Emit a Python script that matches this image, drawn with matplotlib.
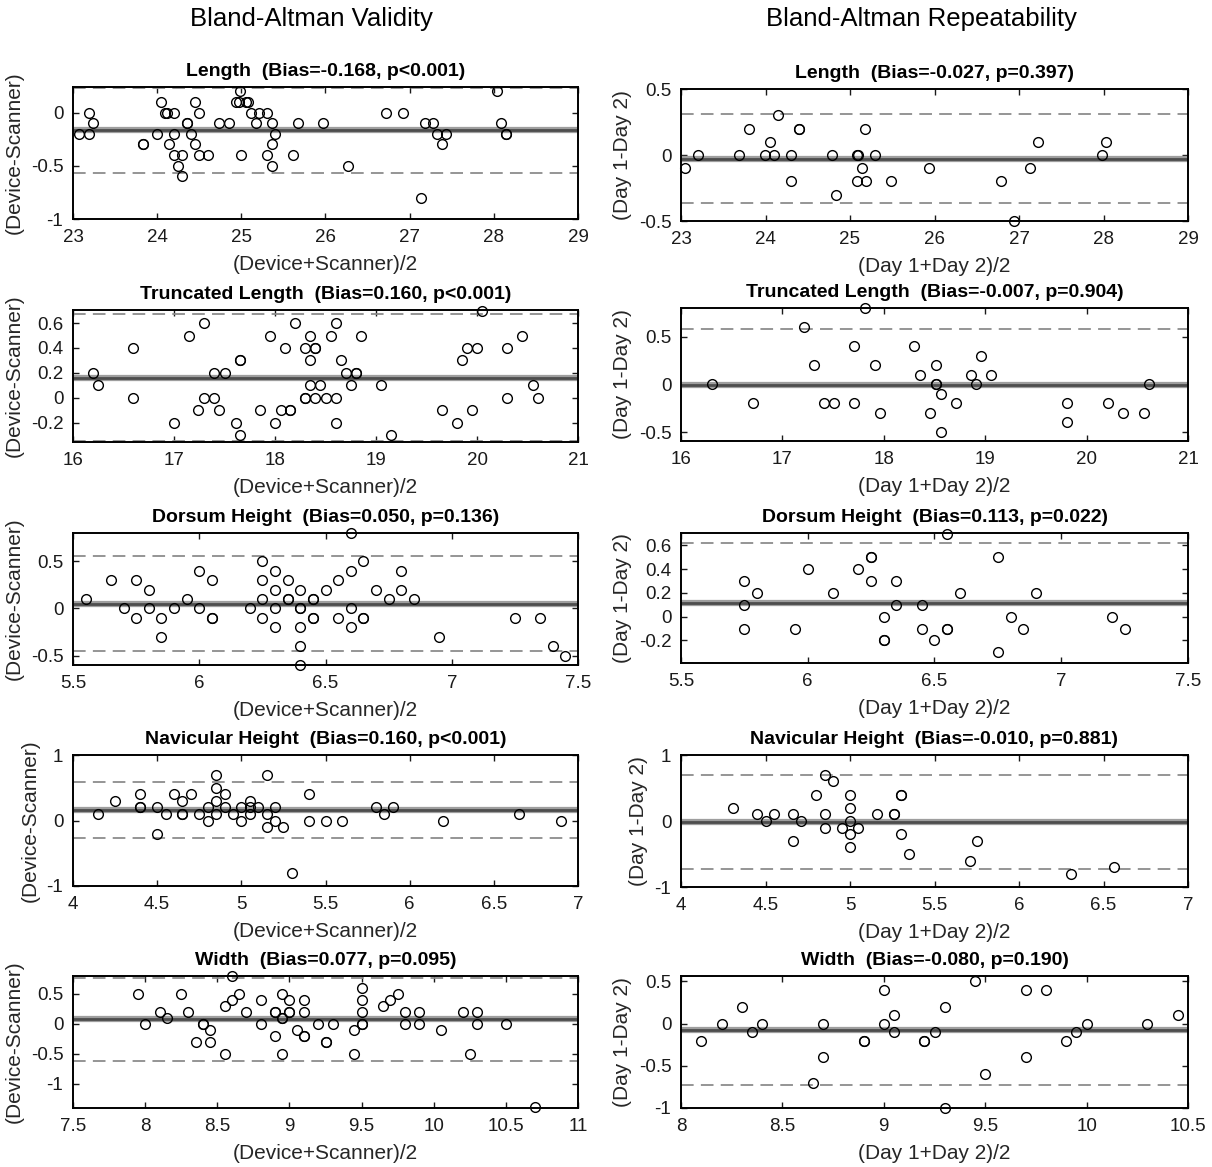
import numpy as np
import matplotlib
matplotlib.use("Agg")
import matplotlib.pyplot as plt
from matplotlib.ticker import FuncFormatter

plt.rcParams["font.family"] = ["Liberation Sans", "DejaVu Sans"]

W, H = 1212, 1167

# ---- data: (mean, difference) per panel ----
val_len_x = [23.07, 23.19, 23.19, 23.24, 23.83, 23.83, 24.0, 24.05, 24.09, 24.12,
             24.14, 24.2, 24.2, 24.2, 24.25, 24.29, 24.3, 24.35, 24.36, 24.4,
             24.45, 24.45, 24.5, 24.5, 24.6, 24.74, 24.85, 24.94, 24.97, 24.99,
             25.0, 25.06, 25.08, 25.11, 25.17, 25.21, 25.31, 25.31, 25.36, 25.36,
             25.36, 25.4, 25.61, 25.67, 25.97, 26.27, 26.72, 26.92, 27.13, 27.18,
             27.28, 27.33, 27.38, 27.43, 28.04, 28.09, 28.14, 28.14]
val_len_y = [-0.2, 0, -0.2, -0.1, -0.3, -0.3, -0.2, 0.1, 0, 0,
             -0.3, 0, -0.2, -0.4, -0.5, -0.6, -0.4, -0.1, -0.1, -0.2,
             0.1, -0.3, 0, -0.4, -0.4, -0.1, -0.1, 0.1, 0.1, 0.2,
             -0.4, 0.1, 0.1, 0, -0.1, 0, 0, -0.4, -0.1, -0.3,
             -0.5, -0.2, -0.4, -0.1, -0.1, -0.5, 0, 0, -0.8, -0.1,
             -0.1, -0.2, -0.3, -0.2, 0.2, -0.1, -0.2, -0.2]

rep_len_x = [23.05, 23.2, 23.69, 23.8, 23.99, 24.05, 24.1, 24.15, 24.3, 24.3,
             24.4, 24.4, 24.79, 24.84, 25.08, 25.1, 25.08, 25.14, 25.18, 25.19,
             25.29, 25.48, 25.94, 26.79, 26.94, 27.13, 27.23, 27.98, 28.03]
rep_len_y = [-0.1, 0, 0, 0.2, 0, 0.1, 0, 0.3, 0, -0.2,
             0.2, 0.2, 0, -0.3, 0, 0, -0.2, -0.1, 0.2, -0.2,
             0, -0.2, -0.1, -0.2, -0.5, -0.1, 0.1, 0, 0.1]

val_tl_x = [16.2, 16.25, 16.59, 16.59, 17.0, 17.15, 17.24, 17.3, 17.3, 17.4,
            17.4, 17.45, 17.5, 17.61, 17.65, 17.65, 17.65, 17.85, 17.95, 18.0,
            18.06, 18.1, 18.15, 18.15, 18.2, 18.3, 18.3, 18.3, 18.35, 18.35,
            18.35, 18.4, 18.4, 18.4, 18.45, 18.5, 18.55, 18.6, 18.6, 18.6,
            18.65, 18.7, 18.75, 18.8, 18.8, 18.85, 19.05, 19.15, 19.65, 19.8,
            19.85, 19.9, 19.95, 20.0, 20.05, 20.3, 20.3, 20.45, 20.55, 20.6]
val_tl_y = [0.2, 0.1, 0.4, 0, -0.2, 0.5, -0.1, 0.6, 0, 0.2,
            0, -0.1, 0.2, -0.2, 0.3, 0.3, -0.3, -0.1, 0.5, -0.2,
            -0.1, 0.4, -0.1, -0.1, 0.6, 0.4, 0, 0, 0.5, 0.3,
            0.1, 0.4, 0.4, 0, 0.1, 0, 0.5, 0.6, 0, -0.2,
            0.3, 0.2, 0.1, 0.2, 0.2, 0.5, 0.1, -0.3, -0.1, -0.2,
            0.3, 0.4, -0.1, 0.4, 0.7, 0.4, 0, 0.5, 0.1, 0]

rep_tl_x = [16.31, 16.71, 17.21, 17.31, 17.41, 17.51, 17.71, 17.71, 17.81, 17.91,
            17.96, 18.3, 18.36, 18.46, 18.51, 18.51, 18.51, 18.56, 18.56, 18.71,
            18.86, 18.91, 18.96, 19.06, 19.81, 19.81, 20.21, 20.36, 20.57, 20.62]
rep_tl_y = [0, -0.2, 0.6, 0.2, -0.2, -0.2, 0.4, -0.2, 0.8, 0.2,
            -0.3, 0.4, 0.1, -0.3, 0.2, 0, 0, -0.1, -0.5, -0.2,
            0.1, 0, 0.3, 0.1, -0.2, -0.4, -0.2, -0.3, -0.3, 0]

val_dh_x = [5.55, 5.65, 5.7, 5.75, 5.75, 5.8, 5.8, 5.85, 5.85, 5.9,
            5.95, 6.0, 6.0, 6.05, 6.05, 6.05, 6.2, 6.25, 6.25, 6.25,
            6.25, 6.3, 6.3, 6.3, 6.3, 6.35, 6.35, 6.35, 6.4, 6.4,
            6.4, 6.4, 6.4, 6.4, 6.45, 6.45, 6.45, 6.45, 6.5, 6.55,
            6.55, 6.6, 6.6, 6.6, 6.6, 6.65, 6.65, 6.65, 6.7, 6.75,
            6.8, 6.8, 6.85, 6.95, 7.25, 7.35, 7.4, 7.45]
val_dh_y = [0.1, 0.3, 0, 0.3, -0.1, 0.2, 0, -0.1, -0.3, 0,
            0.1, 0.4, 0, 0.3, -0.1, -0.1, 0, 0.5, 0.3, 0.1,
            -0.1, 0.4, 0.2, 0, -0.2, 0.3, 0.1, 0.1, 0.2, 0,
            0, -0.2, -0.4, -0.6, 0.1, 0.1, -0.1, -0.1, 0.2, 0.3,
            -0.1, 0.8, 0.4, 0, -0.2, 0.5, -0.1, -0.1, 0.2, 0.1,
            0.4, 0.2, 0.1, -0.3, -0.1, -0.1, -0.4, -0.5]

rep_dh_x = [5.75, 5.75, 5.75, 5.8, 5.95, 6.0, 6.1, 6.2, 6.25, 6.25,
            6.25, 6.3, 6.3, 6.3, 6.35, 6.35, 6.45, 6.45, 6.5, 6.55,
            6.55, 6.55, 6.6, 6.75, 6.75, 6.8, 6.85, 6.9, 7.2, 7.25]
rep_dh_y = [0.3, 0.1, -0.1, 0.2, -0.1, 0.4, 0.2, 0.4, 0.5, 0.5,
            0.3, 0, -0.2, -0.2, 0.3, 0.1, 0.1, -0.1, -0.2, 0.7,
            -0.1, -0.1, 0.2, 0.5, -0.3, 0, -0.1, 0.2, 0, -0.1]

val_nh_x = [4.15, 4.25, 4.4, 4.4, 4.4, 4.5, 4.5, 4.55, 4.6, 4.65,
            4.65, 4.65, 4.7, 4.75, 4.8, 4.8, 4.85, 4.85, 4.85, 4.85,
            4.9, 4.9, 4.95, 5.0, 5.0, 5.05, 5.05, 5.05, 5.1, 5.15,
            5.15, 5.15, 5.2, 5.2, 5.25, 5.3, 5.4, 5.4, 5.5, 5.6,
            5.8, 5.85, 5.9, 6.2, 6.65, 6.9]
val_nh_y = [0.1, 0.3, 0.4, 0.2, 0.2, 0.2, -0.2, 0.1, 0.4, 0.3,
            0.1, 0.1, 0.4, 0.1, 0.2, 0, 0.7, 0.5, 0.3, 0.1,
            0.4, 0.2, 0.1, 0.2, 0, 0.3, 0.2, 0.1, 0.2, 0.7,
            0.1, -0.1, 0.2, 0, -0.1, -0.8, 0.4, 0, 0, 0,
            0.2, 0.1, 0.2, 0, 0.1, 0]

rep_nh_x = [4.31, 4.45, 4.5, 4.55, 4.66, 4.66, 4.71, 4.8, 4.85, 4.85,
            4.85, 4.9, 4.95, 5.0, 5.0, 5.0, 5.0, 5.0, 5.05, 5.16,
            5.26, 5.26, 5.3, 5.3, 5.3, 5.35, 5.71, 5.75, 6.31, 6.56]
rep_nh_y = [0.2, 0.1, 0, 0.1, 0.1, -0.3, 0, 0.4, 0.7, 0.1,
            -0.1, 0.6, -0.1, 0.4, 0.2, 0, -0.2, -0.4, -0.1, 0.1,
            0.1, 0.1, 0.4, 0.4, -0.2, -0.5, -0.6, -0.3, -0.8, -0.7]

val_w_x = [7.95, 8.0, 8.1, 8.15, 8.25, 8.3, 8.35, 8.4, 8.4, 8.45,
           8.45, 8.55, 8.55, 8.6, 8.6, 8.65, 8.7, 8.8, 8.8, 8.9,
           8.9, 8.9, 8.95, 8.95, 8.95, 8.95, 9.0, 9.0, 9.0, 9.05,
           9.1, 9.1, 9.1, 9.1, 9.2, 9.25, 9.25, 9.3, 9.45, 9.45,
           9.5, 9.5, 9.5, 9.5, 9.5, 9.65, 9.7, 9.75, 9.8, 9.8,
           9.9, 9.9, 10.05, 10.2, 10.25, 10.3, 10.3, 10.5, 10.7]
val_w_y = [0.5, 0, 0.2, 0.1, 0.5, 0.2, -0.3, 0, 0, -0.1,
           -0.3, 0.3, -0.5, 0.4, 0.8, 0.5, 0.2, 0.4, 0, 0.2,
           0.2, -0.2, 0.5, 0.1, 0.1, -0.5, 0.4, 0.2, 0.2, -0.1,
           0.4, 0.2, -0.2, -0.2, 0, -0.3, -0.3, 0, -0.1, -0.5,
           0.6, 0.4, 0.2, 0, 0, 0.3, 0.4, 0.5, 0.2, 0,
           0.2, 0, -0.1, 0.2, -0.5, 0.2, 0, 0, -1.4]

rep_w_x = [8.1, 8.2, 8.3, 8.35, 8.4, 8.65, 8.7, 8.7, 8.9, 8.9,
           9.0, 9.0, 9.05, 9.05, 9.2, 9.2, 9.25, 9.3, 9.3, 9.45,
           9.5, 9.7, 9.7, 9.8, 9.9, 9.95, 10.0, 10.3, 10.45]
rep_w_y = [-0.2, 0, 0.2, -0.1, 0, -0.7, 0, -0.4, -0.2, -0.2,
           0.4, 0, 0.1, -0.1, -0.2, -0.2, -0.1, 0.2, -1.0, 0.5,
           -0.6, 0.4, -0.4, 0.4, -0.2, -0.1, 0, 0, 0.1]

names = ["Length", "Truncated Length", "Dorsum Height", "Navicular Height", "Width"]
val_bias = [-0.168, 0.160, 0.050, 0.160, 0.077]
val_p = ["p<0.001", "p<0.001", "p=0.136", "p<0.001", "p=0.095"]
val_loa = [0.402, 0.51, 0.503, 0.425, 0.695]
rep_bias = [-0.027, -0.007, 0.113, -0.010, -0.080]
rep_p = ["p=0.397", "p=0.904", "p=0.022", "p=0.881", "p=0.190"]
rep_loa = [0.335, 0.587, 0.504, 0.71, 0.645]

val_data = [(val_len_x, val_len_y), (val_tl_x, val_tl_y), (val_dh_x, val_dh_y),
            (val_nh_x, val_nh_y), (val_w_x, val_w_y)]
rep_data = [(rep_len_x, rep_len_y), (rep_tl_x, rep_tl_y), (rep_dh_x, rep_dh_y),
            (rep_nh_x, rep_nh_y), (rep_w_x, rep_w_y)]

xlims = [(23, 29), (16, 21), (5.5, 7.5), (4, 7)]
val_xlim5, rep_xlim5 = (7.5, 11), (8, 10.5)
val_ylims = [(-1, 0.24), (-0.355, 0.705), (-0.6, 0.8), (-1, 1), (-1.41, 0.8)]
rep_ylims = [(-0.5, 0.5), (-0.594, 0.8), (-0.39, 0.705), (-1, 1), (-1, 0.565)]
val_yticks = [[-1, -0.5, 0], [-0.2, 0, 0.2, 0.4, 0.6], [-0.5, 0, 0.5], [-1, 0, 1],
              [-1, -0.5, 0, 0.5]]
rep_yticks = [[-0.5, 0, 0.5], [-0.5, 0, 0.5], [-0.2, 0, 0.2, 0.4, 0.6], [-1, 0, 1],
              [-1, -0.5, 0, 0.5]]
val_xticks5 = [7.5, 8, 8.5, 9, 9.5, 10, 10.5, 11]
rep_xticks5 = [8, 8.5, 9, 9.5, 10, 10.5]

# axes boxes in pixels: (top, bottom)
rows_left = [(87, 219), (310, 442), (533, 665), (755, 886), (976, 1108)]
rows_right = [(89, 221), (308, 441), (533, 663), (755, 887), (976, 1108)]
col_left = (73, 578)
col_right = (681, 1188)

fmt = FuncFormatter(lambda v, pos: "%g" % round(v, 3))


def draw_panel(box, col, data, bias, loa, p, name, xlim, ylim, xticks, yticks,
               xlabel, ylabel):
    top, bot = box
    ax = fig.add_axes([col[0] / W, 1 - bot / H, (col[1] - col[0]) / W, (bot - top) / H])
    x, y = data
    ax.axhline(bias, color="0.62", lw=4.5, zorder=2)
    ax.axhline(bias, color="0.3", lw=2.0, zorder=2)
    for lv in (bias + loa, bias - loa):
        ax.axhline(lv, color="0.55", lw=1.3, dashes=(7, 4), zorder=2)
    ax.plot(x, y, "o", ms=7, mfc="none", mec="black", mew=1.0, zorder=3,
            clip_on=False)
    ax.set_xlim(*xlim)
    ax.set_ylim(*ylim)
    ax.set_xticks(xticks)
    ax.set_yticks(yticks)
    ax.xaxis.set_major_formatter(fmt)
    ax.yaxis.set_major_formatter(fmt)
    ax.tick_params(direction="in", top=True, right=True, length=4, width=1,
                   labelsize=13.5, colors="0.1", pad=7)
    for s in ax.spines.values():
        s.set_linewidth(1.4)
    ax.set_title("%s  (Bias=%.3f, %s)" % (name, bias, p), fontsize=14,
                 fontweight="bold", pad=8)
    ax.set_xlabel(xlabel, fontsize=15, color="0.15", labelpad=7)
    ax.set_ylabel(ylabel, fontsize=15, color="0.15", labelpad=5)
    return ax


fig = plt.figure(figsize=(W / 100, H / 100), dpi=100)

for i in range(5):
    if i < 4:
        xl_v = xl_r = xlims[i]
        xt_v = xt_r = np.arange(xlims[i][0], xlims[i][1] + 0.01,
                                1 if i < 2 else 0.5)
    else:
        xl_v, xl_r = val_xlim5, rep_xlim5
        xt_v, xt_r = val_xticks5, rep_xticks5
    draw_panel(rows_left[i], col_left, val_data[i], val_bias[i], val_loa[i], val_p[i],
               names[i], xl_v, val_ylims[i], xt_v, val_yticks[i],
               "(Device+Scanner)/2", "(Device-Scanner)")
    draw_panel(rows_right[i], col_right, rep_data[i], rep_bias[i], rep_loa[i], rep_p[i],
               names[i], xl_r, rep_ylims[i], xt_r, rep_yticks[i],
               "(Day 1+Day 2)/2", "(Day 1-Day 2)")

fig.text(311 / W, 1 - 19 / H, "Bland-Altman Validity", fontsize=18.5,
         ha="center", va="center")
fig.text(921 / W, 1 - 19 / H, "Bland-Altman Repeatability", fontsize=18.5,
         ha="center", va="center")

fig.savefig("out.png", dpi=100, facecolor="white")
